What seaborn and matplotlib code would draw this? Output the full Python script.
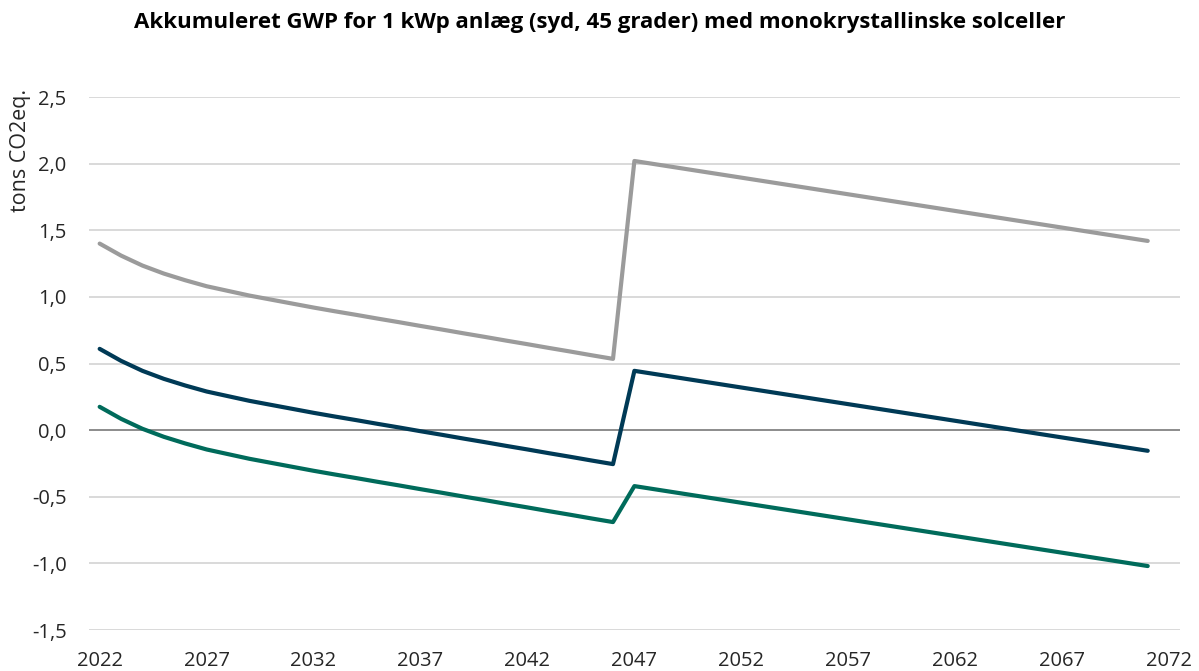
import matplotlib

matplotlib.use("Agg")
import matplotlib.pyplot as plt
import pandas as pd
import seaborn as sns
from matplotlib.ticker import FuncFormatter

years = list(range(2022, 2072))

gray_series = [
    1.40, 1.31, 1.235, 1.175, 1.125, 1.08, 1.045, 1.01, 0.98, 0.95,
    0.92, 0.892, 0.865, 0.837, 0.81, 0.782, 0.755, 0.727, 0.70, 0.672,
    0.645, 0.617, 0.59, 0.562, 0.535,
    2.02, 1.995, 1.97, 1.945, 1.92, 1.895, 1.87, 1.845, 1.82, 1.795,
    1.77, 1.745, 1.72, 1.695, 1.67, 1.645, 1.62, 1.595, 1.57, 1.545,
    1.52, 1.495, 1.47, 1.445, 1.42,
]
navy_series = [
    0.61, 0.52, 0.445, 0.385, 0.335, 0.29, 0.255, 0.22, 0.19, 0.16,
    0.13, 0.102, 0.075, 0.047, 0.02, -0.008, -0.035, -0.063, -0.09, -0.118,
    -0.145, -0.173, -0.20, -0.228, -0.255,
    0.445, 0.42, 0.395, 0.37, 0.345, 0.32, 0.295, 0.27, 0.245, 0.22,
    0.195, 0.17, 0.145, 0.12, 0.095, 0.07, 0.045, 0.02, -0.005, -0.03,
    -0.055, -0.08, -0.105, -0.13, -0.155,
]
teal_series = [
    0.175, 0.085, 0.01, -0.05, -0.10, -0.145, -0.18, -0.215, -0.245, -0.275,
    -0.305, -0.333, -0.36, -0.388, -0.415, -0.443, -0.47, -0.498, -0.525, -0.553,
    -0.58, -0.608, -0.635, -0.663, -0.69,
    -0.42, -0.445, -0.47, -0.495, -0.52, -0.545, -0.57, -0.595, -0.62, -0.645,
    -0.67, -0.695, -0.72, -0.745, -0.77, -0.795, -0.82, -0.845, -0.87, -0.895,
    -0.92, -0.945, -0.97, -0.995, -1.02,
]

x_ticks = list(range(2022, 2073, 5))
y_ticks = [-1.5, -1.0, -0.5, 0.0, 0.5, 1.0, 1.5, 2.0, 2.5]

title = "Akkumuleret GWP for 1 kWp anlæg (syd, 45 grader) med monokrystallinske solceller"
ylabel = "tons CO2eq."

df = pd.DataFrame(
    {
        "år": years * 3,
        "gwp": gray_series + navy_series + teal_series,
        "serie": ["gray"] * len(years) + ["navy"] * len(years) + ["teal"] * len(years),
    }
)
palette = {"gray": "#9B9B9B", "navy": "#003A56", "teal": "#006B5B"}

sns.set_theme(style="white")
plt.rcParams["font.family"] = ["Open Sans", "DejaVu Sans"]

fig = plt.figure(figsize=(11.99, 6.71), dpi=100)
ax = fig.add_axes([0.0742, 0.0611, 0.9098, 0.7943])

for y in y_ticks:
    if y == 0:
        ax.axhline(y, color="#8C8C8C", linewidth=1.4, zorder=1)
    else:
        ax.axhline(y, color="#D9D9D9", linewidth=1.4, zorder=1)

sns.lineplot(
    data=df,
    x="år",
    y="gwp",
    hue="serie",
    palette=palette,
    linewidth=3.0,
    legend=False,
    ax=ax,
    zorder=3,
)
for line in ax.get_lines():
    line.set_solid_capstyle("round")
    line.set_solid_joinstyle("round")

ax.set_xlim(2021.5, 2072.5)
ax.set_ylim(-1.5, 2.5)
ax.set_xticks(x_ticks)
ax.set_yticks(y_ticks)
ax.yaxis.set_major_formatter(FuncFormatter(lambda v, _: f"{v:.1f}".replace(".", ",")))
ax.tick_params(axis="both", length=0, labelsize=14.5, colors="#262626")
ax.tick_params(axis="y", pad=16)
ax.tick_params(axis="x", pad=15)
for s in ax.spines.values():
    s.set_visible(False)

ax.set_xlabel("")
ax.set_ylabel(ylabel, fontsize=15.5, color="#262626")
ax.yaxis.set_label_coords(-0.053, 0.90)

fig.text(0.5, 0.966, title, ha="center", va="center", fontsize=16, fontweight="bold", color="black")

fig.savefig("out.png", dpi=100)
